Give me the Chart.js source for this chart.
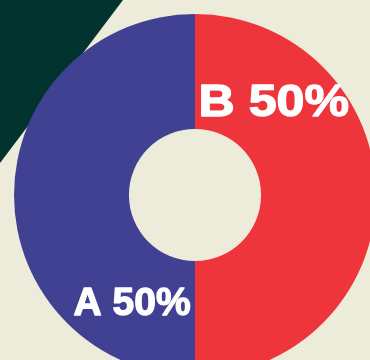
<!DOCTYPE html>
<html>
<head>
<meta charset="utf-8">
<script src="https://cdn.jsdelivr.net/npm/chart.js@4.4.0/dist/chart.umd.min.js"></script>
<style>
  html, body { margin: 0; padding: 0; overflow: hidden; width: 370px; height: 360px; }
  body { background: #edebd9; position: relative; }
  /* dark corner shape behind the chart */
  #corner { position: absolute; left: 0; top: 0; width: 123px; height: 163px; background: #02332f; clip-path: polygon(0 0, 100% 0, 0 100%); }
  #wrap { position: absolute; left: 14px; top: 14px; width: 362px; height: 362px; }
</style>
</head>
<body>
<div id="corner"></div>
<div id="wrap"><canvas id="pie" width="362" height="362"></canvas></div>
<script>
// chart data
var categories = ['B', 'A'];
var shares = [50, 50];
var sliceColors = ['#ee353b', '#404193'];

// label look, per slice: where along the slice (0..1), font size, horizontal stretch
var labelStyle = {
  along: [0.22, 0.17],
  size: [44, 39],
  stretch: [1.14, 1.0]
};

// draw "B 50%" style labels inside the ring
var ringLabels = {
  id: 'ringLabels',
  afterDatasetsDraw: function(chart) {
    var ctx = chart.ctx;
    var meta = chart.getDatasetMeta(0);
    meta.data.forEach(function(arc, i) {
      var p = arc.getProps(['x', 'y', 'startAngle', 'endAngle', 'innerRadius', 'outerRadius'], true);
      var a = p.startAngle + (p.endAngle - p.startAngle) * labelStyle.along[i];
      var r = (p.innerRadius + p.outerRadius) / 2;
      var size = labelStyle.size[i];
      var txt = categories[i] + ' ' + shares[i] + '%';
      ctx.save();
      ctx.translate(p.x + Math.cos(a) * r, p.y + Math.sin(a) * r);
      ctx.scale(labelStyle.stretch[i], 1);
      ctx.fillStyle = '#ffffff';
      ctx.strokeStyle = '#ffffff';
      ctx.lineWidth = 1.3;
      ctx.lineJoin = 'round';
      ctx.font = 'bold ' + size + 'px "Liberation Sans", Arial, sans-serif';
      ctx.textAlign = 'center';
      ctx.textBaseline = 'alphabetic';
      // centre the capitals on the anchor point, heavy weight
      ctx.fillText(txt, 0, size * 0.358);
      ctx.strokeText(txt, 0, size * 0.358);
      ctx.restore();
    });
  }
};

var ctx = document.getElementById('pie');
var myChart = new Chart(ctx, {
  type: 'doughnut',
  data: {
    labels: categories,
    datasets: [{
      data: shares,
      backgroundColor: sliceColors,
      borderWidth: 0
    }]
  },
  options: {
    responsive: false,
    animation: false,
    cutout: '36.5%',
    layout: { padding: 0 },
    plugins: {
      legend: { display: false },
      tooltip: { enabled: false }
    }
  },
  plugins: [ringLabels]
});
</script>
</body>
</html>
